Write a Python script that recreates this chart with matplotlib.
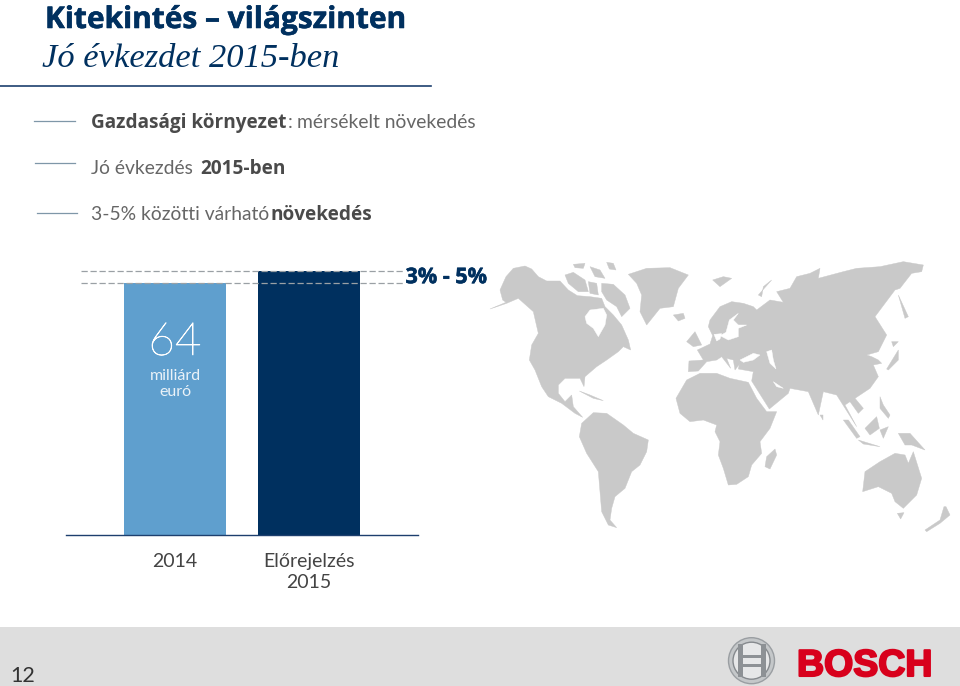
import matplotlib
matplotlib.use("Agg")
import matplotlib.pyplot as plt
import matplotlib.patheffects as pe
from matplotlib.patches import Circle, Polygon, Rectangle

# Adatok
YEARS = ["2014", "Előrejelzés\n2015"]
SALES = [64, 67]
BAR_COLORS = ["#5f9fce", "#00305f"]

NAVY = "#00305f"
TEXT = "#4a4a4a"
MAP_GREY = "#c9c9c9"

# Térkép körvonalak (a referencia 3x nagyításáról olvasva)
NORTH_AMERICA = [(0,192),(48,172),(38,165),(30,135),(48,95),(70,70),(105,63),(125,72),(145,95),(170,108),(210,108),
                 (235,135),(262,152),(300,155),(335,160),(345,185),(370,210),(395,240),(415,285),(422,315),
                 (400,305),(385,320),(350,345),(320,365),(285,395),(282,425),(270,400),(225,400),(205,420),(205,445),
                 (225,470),(245,450),(250,485),(278,517),(255,505),(215,475),(175,455),(155,425),(135,375),
                 (118,345),(125,300),(145,265),(130,200),(85,160),(50,175)]
HUDSON = [(285,215),(300,195),(340,190),(350,210),(345,240),(325,275),(310,250),(290,235)]
ARCTIC = [[(225,90),(250,82),(285,105),(295,140),(265,140),(235,115)],
          [(250,58),(285,55),(280,70),(255,68)],
          [(350,52),(370,55),(378,75),(358,72)],
          [(300,65),(330,75),(345,100),(315,95)],
          [(295,110),(320,115),(325,150),(300,145)],
          [(335,115),(370,118),(405,150),(420,190),(395,215),(380,185),(350,165),(335,140)]]
GREENLAND = [(415,88),(470,70),(540,68),(595,90),(565,130),(550,185),(510,190),(470,240),(450,200),(455,150),(440,115)]
ICELAND = [(550,210),(580,205),(585,220),(565,228)]
SVALBARD = [(668,105),(700,95),(725,100),(690,125)]
SOUTH_AMERICA = [(275,535),(310,503),(350,505),(400,540),(430,565),(475,585),(470,620),(450,660),(425,680),
                 (405,730),(375,755),(365,790),(360,825),(380,848),(355,840),(335,800),(325,680),(290,625),(268,575)]
AFRICA = [(558,460),(590,405),(630,385),(680,385),(720,400),(775,412),(800,460),(830,500),(860,500),(840,550),
          (810,590),(815,625),(785,660),(775,695),(740,718),(715,720),(700,670),(685,630),(690,590),(675,560),
          (680,540),(640,525),(600,530),(570,505)]
MADAGASCAR = [(855,612),(860,630),(840,672),(825,665),(830,635)]
EURASIA = [(595,380),(597,348),(640,345),(622,315),(660,297),(668,272),(655,245),(660,225),(690,185),(725,170),
           (760,175),(790,185),(800,195),(840,165),(880,172),(860,140),(900,130),(920,95),(960,85),(990,70),(985,100),
           (1060,80),(1100,70),(1170,65),(1240,50),(1300,60),(1295,80),(1265,85),(1230,130),(1215,135),(1185,175),
           (1155,215),(1190,270),(1165,320),(1130,330),(1145,335),(1165,345),(1175,355),(1150,360),(1165,395),
           (1140,430),(1095,460),(1120,490),(1105,505),(1080,470),(1065,480),(1100,545),(1040,450),(1000,440),
           (985,510),(955,440),(900,430),(895,445),(838,492),(785,408),(790,380),(745,372),(748,358),(735,375),
           (730,345),(710,340),(722,370),(695,335),(680,345),(650,350),(625,378)]
BALTIC = [(690,272),(708,262),(718,225),(745,205),(730,225),(745,240),(770,240),(745,250),(745,275),(715,285)]
SKAGERRAK = [(672,268),(695,266),(690,282),(680,288)]
BLACK_SEA = [(750,345),(770,335),(790,325),(810,330),(790,345),(760,352)]
CASPIAN = [(830,320),(845,315),(850,345),(858,372),(840,355)]
GULF = [(850,410),(880,430),(860,425)]
ISLANDS = [[(590,290),(615,260),(635,300),(610,305)],
           [(1190,372),(1225,315),(1225,345),(1195,375)],
           [(1205,290),(1225,290),(1210,305)],
           [(1225,150),(1255,215),(1245,220)],
           [(1060,525),(1075,525),(1110,575),(1100,580)],
           [(1105,585),(1170,605),(1120,597)],
           [(1125,550),(1160,515),(1168,550),(1140,570)],
           [(1170,555),(1195,545),(1180,580)],
           [(1225,565),(1260,565),(1305,615),(1265,600),(1245,600)],
           [(1170,455),(1180,480),(1200,510),(1195,520),(1170,490)],
           [(1118,740),(1125,680),(1170,650),(1215,625),(1245,630),(1255,655),(1270,620),(1295,700),(1280,750),
            (1240,790),(1215,770),(1205,745),(1165,725)],
           [(1222,805),(1242,803),(1232,822)],
           [(1305,855),(1350,825),(1362,785),(1368,785),(1380,810),(1350,835),(1310,860)],
           [(990,510),(1000,510),(1000,525)],
           [(268,438),(300,450),(340,467),(310,460)],
           [(805,150),(845,105),(820,125),(815,155)]]


def map_xy(points):
    return [(490 + x / 3, 245 + y / 3) for x, y in points]


def heavy(width, color):
    return [pe.withStroke(linewidth=width, foreground=color)]


fig = plt.figure(figsize=(9.6, 6.86), dpi=100, facecolor="white")

# Háttér réteg pixel-koordinátákkal
bg = fig.add_axes([0, 0, 1, 1])
bg.set_xlim(0, 960)
bg.set_ylim(686, 0)
bg.axis("off")

bg.add_patch(Rectangle((0, 627), 960, 59, color="#dedede", lw=0))
bg.plot([0, 431], [85.5, 85.5], color="#1d3f6e", lw=1.2)
for x0, x1, y in [(34, 75, 121), (35, 75, 163), (37, 77, 213)]:
    bg.plot([x0, x1], [y, y], color="#7f97a8", lw=0.9)

# Címsor
bg.text(45, 28, "Kitekintés – világszinten", family="Open Sans", weight="bold", fontsize=21.5, color=NAVY,
        va="baseline", path_effects=heavy(0.4, NAVY))
bg.text(42, 67, "Jó évkezdet 2015-ben", family="Liberation Serif", style="italic", fontsize=24.8, color=NAVY,
        va="baseline")

# Felsorolás
LIGHT = dict(family="Lato", fontsize=13.9, color="#666666", va="baseline")
BOLD = dict(family="Open Sans", weight="bold", fontsize=13.7, color=TEXT, va="baseline")
bg.text(91, 128, "Gazdasági környezet", **BOLD)
bg.text(288, 128, ":", **LIGHT)
bg.text(297, 128, "mérsékelt növekedés", **LIGHT)
bg.text(91, 174, "Jó évkezdés", **LIGHT)
bg.text(200, 174, "2015-ben", **BOLD)
bg.text(91, 220, "3-5% közötti várható", **LIGHT)
bg.text(271, 220, "növekedés", **BOLD)

# Térkép
land = [NORTH_AMERICA, GREENLAND, ICELAND, SVALBARD, SOUTH_AMERICA, AFRICA, MADAGASCAR, EURASIA] + ARCTIC + ISLANDS
for poly in land:
    bg.add_patch(Polygon(map_xy(poly), closed=True, fc=MAP_GREY, ec=MAP_GREY, lw=0.3))
for poly in [HUDSON, BALTIC, SKAGERRAK, BLACK_SEA, CASPIAN, GULF]:
    bg.add_patch(Polygon(map_xy(poly), closed=True, fc="white", ec="white", lw=0.3))

# Lábléc
bg.text(10, 682, "12", family="Lato", fontsize=15.5, color="#333333", va="baseline")
bg.add_patch(Circle((751.5, 660.7), 23, fc="#c4c7c9", ec="#9a9ea2", lw=1.0))
bg.add_patch(Circle((751.5, 660.7), 18.5, fc="#e6e7e8", ec="#85898d", lw=1.0))
for x in (740, 763):
    bg.add_patch(Rectangle((x - 2.5, 644), 5, 33, fc="#8d9195", lw=0))
bg.add_patch(Rectangle((740, 655), 23, 2.5, fc="#8d9195", lw=0))
bg.add_patch(Rectangle((740, 664), 23, 2.5, fc="#8d9195", lw=0))
bg.text(797, 676, "BOSCH", family="Liberation Sans", weight="bold", fontsize=27, color="#d8001c", va="baseline",
        path_effects=heavy(1.5, "#d8001c"))

# Oszlopdiagram
ax = fig.add_axes([66 / 960, (686 - 535) / 686, 352 / 960, 264 / 686])
ax.patch.set_alpha(0)
ax.set_xlim(-0.813, 1.813)
ax.set_ylim(0, SALES[1])
ax.bar(range(len(SALES)), SALES, width=0.754, color=BAR_COLORS, zorder=2)
for value in SALES:
    ax.hlines(value, -0.70, 1.70, color="#9aa0a5", lw=0.9, linestyles=(0, (5, 2.2)), zorder=3, clip_on=False)

for spine in ["top", "left", "right"]:
    ax.spines[spine].set_visible(False)
ax.spines["bottom"].set_color("#1d3f6e")
ax.spines["bottom"].set_linewidth(1.0)
ax.set_yticks([])
ax.set_xticks(range(len(YEARS)), YEARS)
ax.tick_params(axis="x", length=0, pad=13)
for label in ax.get_xticklabels():
    label.set(family="Lato", fontsize=14, color="#444444", linespacing=1.3)

ax.text(0, 45.7, "64", family="Lato", weight="light", fontsize=33, color="white", ha="center", va="baseline",
        path_effects=heavy(0.5, "white"))
ax.text(0, 35.2, "milliárd\neuró", family="Lato", fontsize=11.5, color="#eaf2f8", ha="center",
        va="baseline", linespacing=1.2)
ax.text(1.72, SALES[1] - 1.7, "3% - 5%", family="Open Sans", weight="bold", fontsize=15.5, color=NAVY, va="center",
        clip_on=False, path_effects=heavy(0.4, NAVY))

fig.savefig("out.png", dpi=100)
